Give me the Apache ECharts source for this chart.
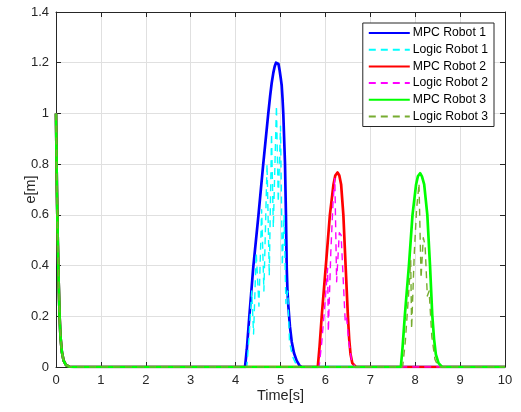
<!DOCTYPE html>
<html>
<head>
<meta charset="utf-8">
<script src="https://cdn.jsdelivr.net/npm/echarts@6/dist/echarts.min.js"></script>
<style>
  html, body { margin: 0; padding: 0; background: #fff; }
  #main { width: 521px; height: 412px; }
</style>
</head>
<body>
<div id="main"></div>
<script>
// initial error decay, shared by all robots
const startDecay = [[0, 1], [0.02, 0.7], [0.04, 0.49], [0.06, 0.33], [0.08, 0.2], [0.1, 0.12],
  [0.13, 0.06], [0.17, 0.025], [0.22, 0.008], [0.3, 0.001], [0.4, 0]];

const mpc1 = [[4.21, 0], [4.25, 0.07], [4.305, 0.198], [4.394, 0.395], [4.506, 0.593], [4.617, 0.803],
  [4.728, 1.0], [4.77, 1.07], [4.804, 1.12], [4.84, 1.16], [4.87, 1.185], [4.9, 1.2], [4.929, 1.204],
  [4.955, 1.195], [4.98, 1.17], [5.005, 1.14], [5.027, 1.11], [5.045, 1.06], [5.062, 1.0], [5.1, 0.803],
  [5.122, 0.593], [5.138, 0.395], [5.155, 0.3], [5.175, 0.24], [5.21, 0.16], [5.25, 0.1], [5.3, 0.055],
  [5.36, 0.025], [5.42, 0.007], [5.47, 0]];
const logic1 = [[4.25, 0], [4.3, 0.12], [4.36, 0.3], [4.4, 0.13], [4.46, 0.45], [4.52, 0.24],
  [4.58, 0.62], [4.63, 0.3], [4.7, 0.8], [4.75, 0.36], [4.8, 0.92], [4.84, 0.55], [4.91, 1.03],
  [4.95, 0.65], [5.0, 0.95], [5.04, 0.4], [5.08, 0.6], [5.12, 0.25], [5.16, 0.3], [5.2, 0.1],
  [5.27, 0.04], [5.35, 0.01], [5.45, 0]];
const mpc2 = [[5.83, 0], [5.87, 0.08], [5.92, 0.205], [6.01, 0.4], [6.1, 0.6], [6.18, 0.72], [6.22, 0.755],
  [6.27, 0.767], [6.31, 0.755], [6.35, 0.72], [6.4, 0.6], [6.45, 0.4], [6.5, 0.205], [6.53, 0.11],
  [6.56, 0.05], [6.6, 0.015], [6.68, 0]];
const logic2 = [[5.86, 0], [5.92, 0.1], [5.99, 0.25], [6.05, 0.39], [6.065, 0.14], [6.12, 0.45],
  [6.17, 0.65], [6.21, 0.744], [6.25, 0.336], [6.31, 0.53], [6.35, 0.52], [6.44, 0.185], [6.47, 0.2],
  [6.52, 0.1], [6.58, 0.03], [6.66, 0]];
const mpc3 = [[7.68, 0], [7.72, 0.08], [7.77, 0.205], [7.86, 0.4], [7.94, 0.6], [8.02, 0.72], [8.06, 0.752],
  [8.11, 0.764], [8.15, 0.752], [8.2, 0.72], [8.27, 0.6], [8.33, 0.4], [8.38, 0.205], [8.42, 0.11],
  [8.46, 0.05], [8.52, 0.015], [8.6, 0]];
const logic3 = [[7.72, 0], [7.78, 0.1], [7.85, 0.28], [7.9, 0.42], [7.92, 0.15], [7.98, 0.45],
  [8.03, 0.62], [8.085, 0.724], [8.13, 0.35], [8.18, 0.51], [8.22, 0.48], [8.27, 0.28], [8.31, 0.3],
  [8.37, 0.12], [8.44, 0.03], [8.52, 0]];
const endPoint = [[10, 0]];

const names = ["MPC Robot 1", "Logic Robot 1", "MPC Robot 2", "Logic Robot 2", "MPC Robot 3", "Logic Robot 3"];
const colors = ["#0000ff", "#00ffff", "#ff0000", "#ff00ff", "#00ff00", "#77ac30"];
const peaks = [mpc1, logic1, mpc2, logic2, mpc3, logic3];

var myChart = echarts.init(document.getElementById("main"));
const font = "Liberation Sans, Arial, sans-serif";

let seriesData = [];
for (let k = 0; k < names.length; k++) {
  let isMpc = k % 2 == 0;
  seriesData.push({
    name: names[k],
    type: "line",
    showSymbol: false,
    symbol: "none",
    data: startDecay.concat(peaks[k], endPoint),
    lineStyle: {
      color: colors[k],
      width: isMpc ? 2.7 : 1.4,
      type: isMpc ? "solid" : [7, 5],
      join: "round"
    },
    itemStyle: { color: colors[k] },
    animation: false
  });
}

const axisLineStyle = { color: "#262626", width: 1 };
var option = {
  textStyle: { fontFamily: font },
  grid: { left: 56, right: 16, top: 12, bottom: 45 },
  legend: {
    orient: "vertical",
    right: 27,
    top: 23,
    data: names,
    itemWidth: 41,
    itemHeight: 12,
    itemGap: 4.7,
    padding: [4, 6, 4, 5],
    borderColor: "#262626",
    borderWidth: 1,
    backgroundColor: "#fff",
    itemStyle: { opacity: 0 },
    textStyle: { fontFamily: font, fontSize: 12.2, color: "#000", padding: [0, 0, 0, -2] }
  },
  xAxis: [{
    type: "value",
    min: 0,
    max: 10,
    interval: 1,
    name: "Time[s]",
    nameLocation: "middle",
    nameGap: 21,
    nameMoveOverlap: false,
    nameTextStyle: { fontSize: 14.5, color: "#262626", fontFamily: font },
    axisLine: { onZero: false, lineStyle: axisLineStyle },
    axisTick: { inside: true, length: 5, lineStyle: axisLineStyle },
    axisLabel: { color: "#262626", fontSize: 13, margin: 7, fontFamily: font },
    splitLine: { show: true, lineStyle: { color: "#e0e0e0", width: 1 } }
  }, {
    type: "value",
    position: "top",
    min: 0,
    max: 10,
    interval: 1,
    axisLine: { onZero: false, lineStyle: axisLineStyle },
    axisTick: { inside: true, length: 5, lineStyle: axisLineStyle },
    axisLabel: { show: false },
    splitLine: { show: false }
  }],
  yAxis: [{
    type: "value",
    min: 0,
    max: 1.4,
    interval: 0.2,
    name: "e[m]",
    nameLocation: "middle",
    nameGap: 18,
    nameMoveOverlap: false,
    nameTextStyle: { fontSize: 14.5, color: "#262626", fontFamily: font },
    axisLine: { show: true, onZero: false, lineStyle: axisLineStyle },
    axisTick: { show: true, inside: true, length: 5, lineStyle: axisLineStyle },
    axisLabel: { color: "#262626", fontSize: 13, margin: 7, fontFamily: font },
    splitLine: { show: true, lineStyle: { color: "#e0e0e0", width: 1 } }
  }, {
    type: "value",
    position: "right",
    min: 0,
    max: 1.4,
    interval: 0.2,
    axisLine: { show: true, onZero: false, lineStyle: axisLineStyle },
    axisTick: { show: true, inside: true, length: 5, lineStyle: axisLineStyle },
    axisLabel: { show: false },
    splitLine: { show: false }
  }],
  series: seriesData,
  animation: false
};
myChart.setOption(option);
</script>
</body>
</html>
